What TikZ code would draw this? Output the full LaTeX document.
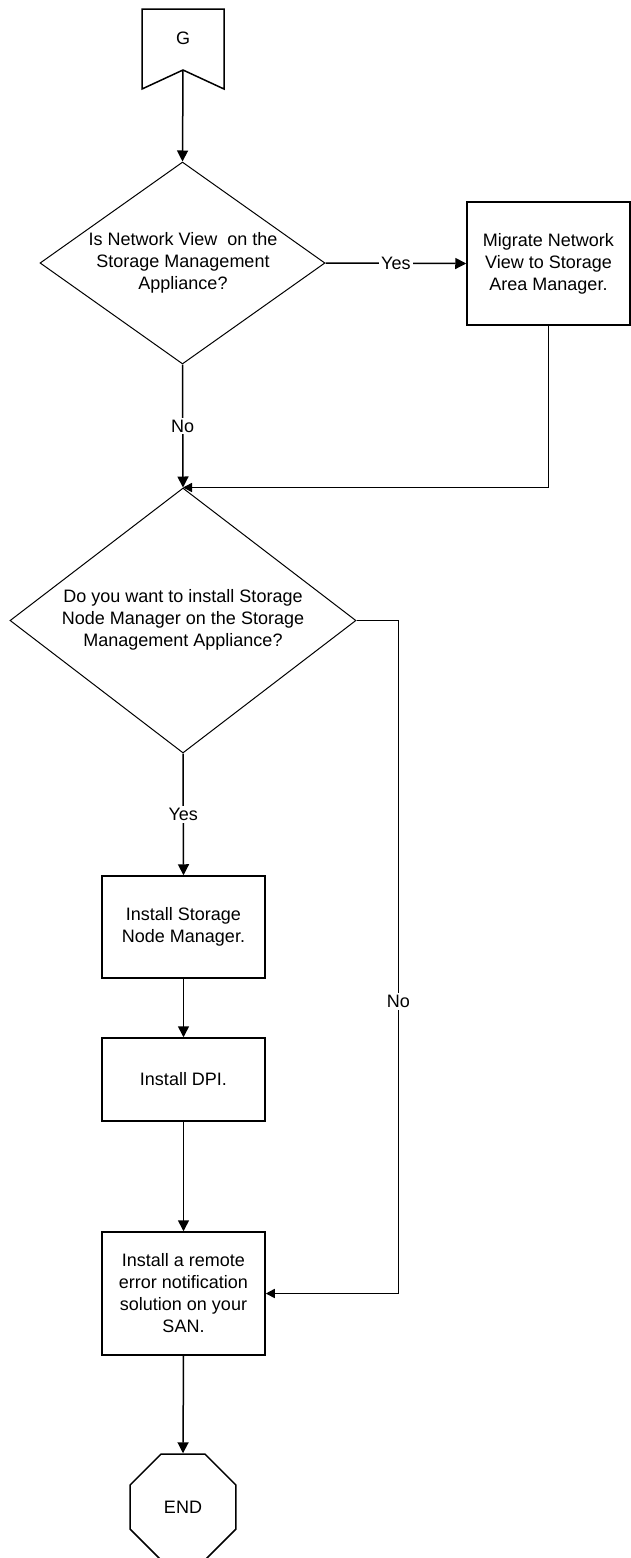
\documentclass[tikz,border=0pt]{standalone}
\usepackage{fontspec}
\setmainfont{Liberation Sans}
\usetikzlibrary{shapes.geometric,arrows.meta}
\begin{document}
\begin{tikzpicture}[x=1pt,y=-1pt,line join=miter,
  every node/.style={font=\fontsize{18}{22}\selectfont},
  proc/.style={draw,line width=1.5pt,rectangle,minimum width=163pt,inner sep=0pt,align=center},
  dec/.style={draw,line width=1pt,diamond,inner sep=0pt},
  conn/.style={line width=1.5pt},
  arr/.style={conn,-{Triangle[length=11pt,width=11pt]}},
  arrs/.style={conn,-{Triangle[length=9pt,width=9pt]}},
  lbl/.style={fill=white,inner sep=2pt},
  txt/.style={align=center,inner sep=0pt}]
\path[fill=white,use as bounding box] (0,0) rectangle (631,1558);
\clip (0,0) rectangle (631,1558);
% start connector G
\coordinate (gtl) at (142,9);
\coordinate (gtr) at (224,9);
\coordinate (gbr) at (224,89);
\coordinate (gn) at (183,70);
\coordinate (gbl) at (142,89);
\draw[line width=1.5pt] (gtl) -- (gtr) -- (gbr) -- (gn) -- (gbl) -- cycle;
\node[txt] (gtxt) at (183,38) {G};
% decisions
\node[dec,minimum width=285pt,minimum height=202pt] (d1) at (182.5,263) {};
\node[txt] (d1t) at (183,263) {Is Network View\ \ on the\\Storage Management\\Appliance?};
\node[dec,minimum width=346pt,minimum height=265pt] (d2) at (183,620.5) {};
\node[txt] (d2t) at (183,619.5) {Do you want to install Storage\\Node Manager on the Storage\\Management Appliance?};
% processes
\node[proc,minimum height=123pt] (mig) at (548.5,263.5) {Migrate Network\\View to Storage\\Area Manager.};
\node[proc,minimum height=102pt] (b1) at (183.5,927) {Install Storage\\Node Manager.};
\node[proc,minimum height=83pt] (b2) at (183.5,1079.5) {Install DPI.};
\node[proc,minimum height=123pt] (b3) at (183.5,1293.5) {Install a remote\\error notification\\solution on your\\SAN.};
\node[draw,line width=1.5pt,regular polygon,regular polygon sides=8,minimum size=114.7pt,inner sep=0pt] (endn) at (183,1507) {END};
% connectors
\draw[arr] (gn) -- (d1.north);
\draw[arr] (d1.east) -- node[lbl]{Yes} (mig.west);
\draw[arr] (d1.south) -- node[lbl]{No} (d2.north);
\draw[arrs] (mig.south) |- (d2.north);
\draw[arr] (d2.south) -- node[lbl]{Yes} (b1.north);
\draw[arrs] (d2.east) -- ++(42,0) |- node[lbl,pos=0.283]{No} (b3.east);
\draw[arr] (b1.south) -- (b2.north);
\draw[arr] (b2.south) -- (b3.north);
\draw[arr] (b3.south) -- (endn.north);
\end{tikzpicture}
\end{document}
